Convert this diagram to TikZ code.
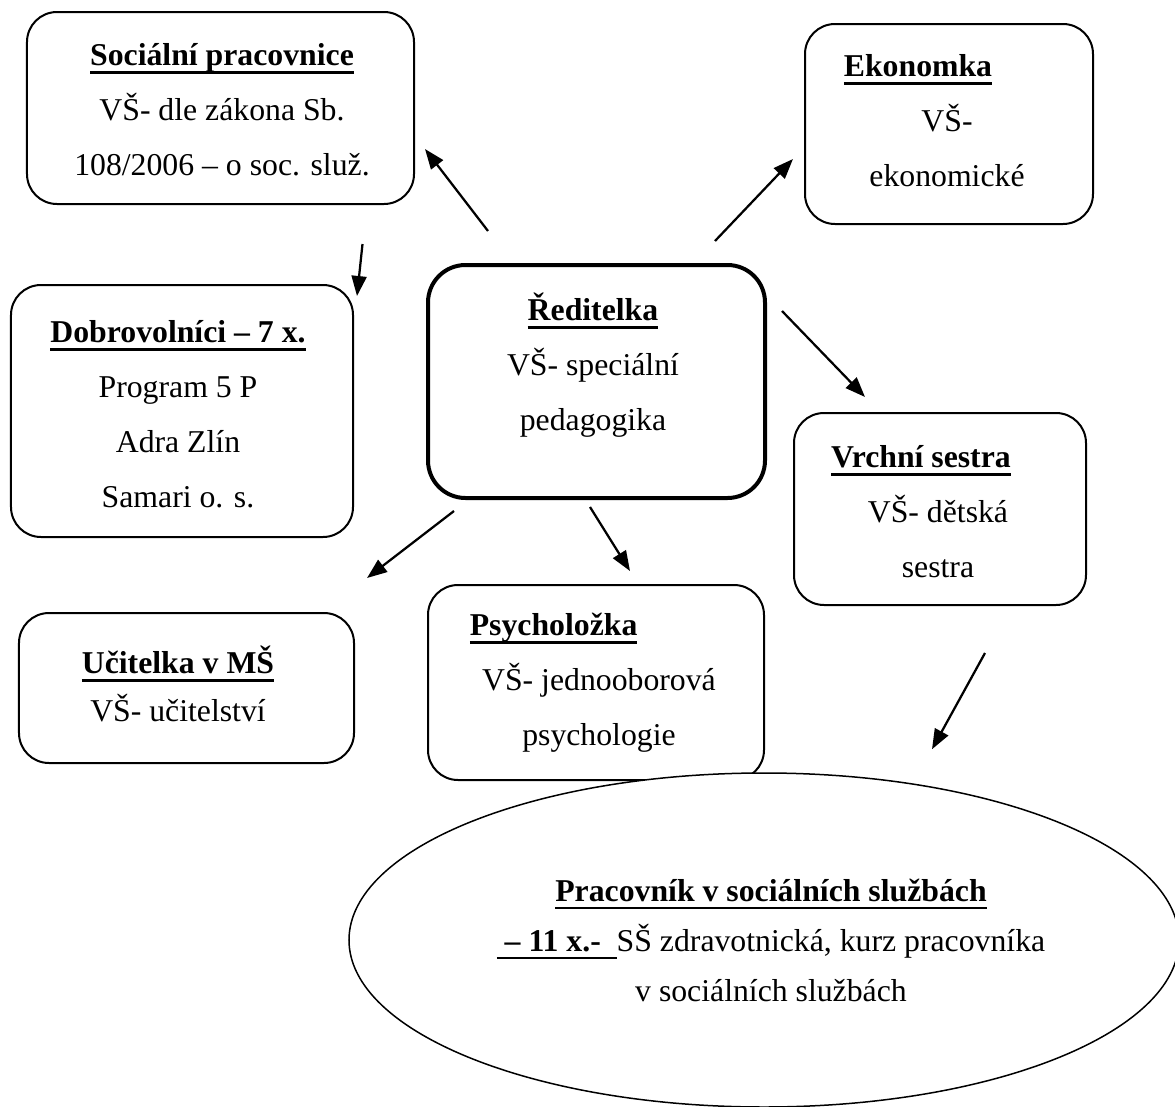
\documentclass[tikz,border=0pt]{standalone}
\usepackage{fontspec}
\setmainfont{Liberation Serif}
\usetikzlibrary{arrows.meta, shapes.geometric}
\newcommand{\ttl}[1]{\textbf{\sbox0{#1}\rlap{\rule[-3.3pt]{\wd0}{1.1pt}}\usebox0}}

\begin{document}
\begin{tikzpicture}[x=0.4pt, y=-0.4pt,
    box/.style={draw, rounded corners=12pt, line width=0.8pt},
    txt/.style={align=center, font=\fontsize{12.7}{22}\selectfont},
    arr/.style={-{Triangle[length=8pt,width=6pt]}, line width=0.9pt}]
    \useasboundingbox (0,0) rectangle (1175,1107);

    % Boxes
    \node[box, minimum width=154.8pt, minimum height=76.8pt] (soc) at (220.5,108) {};
    \node[box, minimum width=115.2pt, minimum height=80pt] (eko) at (949,124) {};
    \node[box, minimum width=136.8pt, minimum height=100.8pt] (dob) at (182,411) {};
    \node[box, line width=1.6pt, rounded corners=15pt, minimum width=134.8pt, minimum height=93.2pt] (red) at (596.5,381.5) {};
    \node[box, minimum width=116.8pt, minimum height=76.8pt] (vrch) at (940,509) {};
    \node[box, minimum width=134pt, minimum height=60pt] (uci) at (186.5,688) {};
    \node[box, minimum width=134.4pt, minimum height=78pt] (psy) at (596,682.5) {};

    % Ellipse (lies over the corner of psy)
    \node[draw, ellipse, fill=white, line width=0.6pt, minimum width=332pt, minimum height=133.6pt] (ell) at (764,940) {};

    % Texts
    \node[txt] (soc-t) at (222,110) {\ttl{Sociální pracovnice}\\VŠ- dle zákona Sb.\\108/2006 – o soc. služ.};
    \node[txt] (eko-t) at (947,121) {\ttl{Ekonomka}\kern23.2pt\\VŠ-\\ekonomické};
    \node[txt] (dob-t) at (178,414) {\ttl{Dobrovolníci – 7 x.}\\Program 5 P\\Adra Zlín\\Samari o. s.};
    \node[txt] (red-t) at (593,365) {\ttl{Ředitelka}\\VŠ- speciální\\pedagogika};
    \node[txt] (vrch-t) at (938,512) {\ttl{Vrchní sestra}\kern13.6pt\\VŠ- dětská\\sestra};
    \node[txt, font=\fontsize{12.7}{19.2}\selectfont] (uci-t) at (178,684) {\ttl{Učitelka v MŠ}\\VŠ- učitelství};
    \node[txt] (psy-t) at (599,683) {\ttl{Psycholožka}\kern36.3pt\\VŠ- jednooborová\\psychologie};
    \node[txt, font=\fontsize{12.7}{20}\selectfont] (ell-t) at (771,940) {\ttl{Pracovník v sociálních službách}\\\ttl{~– 11 x.-~~}SŠ zdravotnická, kurz pracovníka\\v sociálních službách};

    % Arrows
    \draw[arr] ([xshift=24.8pt,yshift=12.8pt]red.north west) -- ([xshift=4pt,yshift=22.4pt]soc.south east);
    \draw[arr] ([xshift=-21pt,yshift=-15.6pt]soc.south east) -- ([xshift=1.2pt,yshift=-4.8pt]dob.north east);
    \draw[arr] ([xshift=-20.8pt,yshift=8.8pt]red.north east) -- ([xshift=-4.4pt,yshift=-14pt]eko.west);
    \draw[arr] ([xshift=6pt,yshift=-19.2pt]red.north east) -- ([xshift=28.8pt,yshift=6pt]vrch.north west);
    \draw[arr] ([xshift=11.2pt,yshift=-4.4pt]red.south west) -- ([xshift=4.8pt,yshift=13.6pt]uci.north east);
    \draw[arr] ([xshift=-2.6pt,yshift=-2.8pt]red.south) -- ([xshift=13.6pt,yshift=5.2pt]psy.north);
    \draw[arr] ([xshift=18pt,yshift=-18.8pt]vrch.south) -- ([xshift=67.2pt,yshift=9.2pt]ell.north);
\end{tikzpicture}
\end{document}
